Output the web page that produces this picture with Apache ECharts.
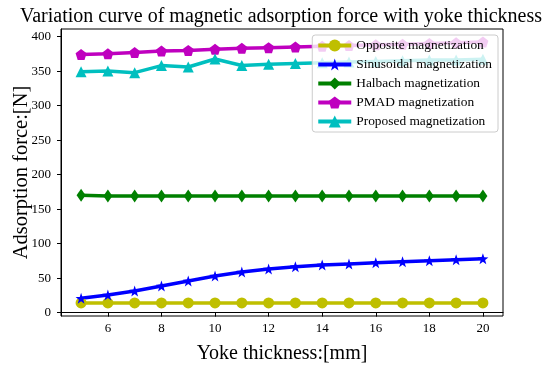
<!DOCTYPE html>
<html><head><meta charset="utf-8">
<script src="https://cdn.jsdelivr.net/npm/echarts@6/dist/echarts.min.js"></script>
<style>html,body{margin:0;padding:0;background:#fff}#c{width:550px;height:369px}</style>
</head><body><div id="c"></div>
<script>
const thickness = [5,6,7,8,9,10,11,12,13,14,15,16,17,18,19,20];
const opposite = [14,14,14,14,14,14,14,14,14,14,14,14,14,14,14,14];
const sinusoidal = [20.7,25.5,31.3,38.6,45.8,53,58.8,63.1,66.5,69,70.4,72.3,73.8,75.2,76.7,78.1];
const halbach = [170,169,169,169,169,169,169,169,169,169,169,169,169,169,169,169];
const pmad = [374,375,377,379,380,381.5,383,384,385,386,387,388,389,390,391,392];
const proposed = [349,350,347.7,358,356,367.5,358,360,361,362,363,364,365,366,366,367];
const xTicks = [6,8,10,12,14,16,18,20];
const yTicks = [0,50,100,150,200,250,300,350,400];

const STAR = 'path://M0,-10 L2.35,-3.24 L9.51,-3.09 L3.8,1.24 L5.88,8.09 L0,4 L-5.88,8.09 L-3.8,1.24 L-9.51,-3.09 L-2.35,-3.24 Z';
const PENT = 'path://M0,-10 L9.51,-3.09 L5.88,8.09 L-5.88,8.09 L-9.51,-3.09 Z';
const font = 'Liberation Serif';

function pts(arr){ return thickness.map((x,i)=>[x,arr[i]]); }
function ser(name, arr, color, symbol, size){
  return {name, type:'line', data:pts(arr), symbol, symbolSize:size,
    lineStyle:{color, width:3.5}, itemStyle:{color}, animation:false, z: 2};
}
const chart = echarts.init(document.getElementById('c'));
chart.setOption({
  backgroundColor:'#fff',
  animation:false,
  title:{text:'Variation curve of magnetic adsorption force with yoke thickness', left:276, top:2, textAlign:'center',
    textStyle:{fontFamily:font, fontSize:20, fontWeight:'normal', color:'#000'}},
  grid:{left:61, right:47, top:29, bottom:53, show:true, borderColor:'#000', borderWidth:1, outerBoundsMode:'none', containLabel:false},
  legend:{right:52, top:35, orient:'vertical', itemGap:6, itemWidth:33, itemHeight:15, z:10,
    lineStyle:{width:4},
    backgroundColor:'rgba(255,255,255,0.8)', borderColor:'#ccc', borderWidth:1, borderRadius:3, padding:[4,6,4,4],
    textStyle:{fontFamily:font, fontSize:13.4, color:'#000'}},
  xAxis:{type:'value', min:4.25, max:20.75, name:'Yoke thickness:[mm]', nameLocation:'middle', nameGap:28,
    nameTextStyle:{fontFamily:font, fontSize:20, color:'#000'},
    axisLine:{lineStyle:{color:'#000'}}, splitLine:{show:false},
    axisTick:{customValues:xTicks, length:4, lineStyle:{color:'#000'}},
    axisLabel:{customValues:xTicks, fontFamily:font, fontSize:13, color:'#000', margin:6}},
  yAxis:{type:'value', min:-4.9, max:411, name:'Adsorption force:[N]', nameLocation:'middle', nameGap:29, nameMoveOverlap:false,
    nameTextStyle:{fontFamily:font, fontSize:20.5, color:'#000'},
    axisLine:{show:true, lineStyle:{color:'#000'}}, splitLine:{show:false},
    axisTick:{show:true, customValues:yTicks, length:4, lineStyle:{color:'#000'}},
    axisLabel:{customValues:yTicks, fontFamily:font, fontSize:13, color:'#000', margin:10}},
  series:[
    ser('Opposite magnetization', opposite, '#bfbf00', 'circle', 11),
    ser('Sinusoidal magnetization', sinusoidal, '#0000ff', STAR, 11),
    ser('Halbach magnetization', halbach, '#008000', 'diamond', [9,13]),
    ser('PMAD magnetization', pmad, '#bf00bf', PENT, 11),
    ser('Proposed magnetization', proposed, '#00bfbf', 'triangle', 11)
  ]
});
</script></body></html>
